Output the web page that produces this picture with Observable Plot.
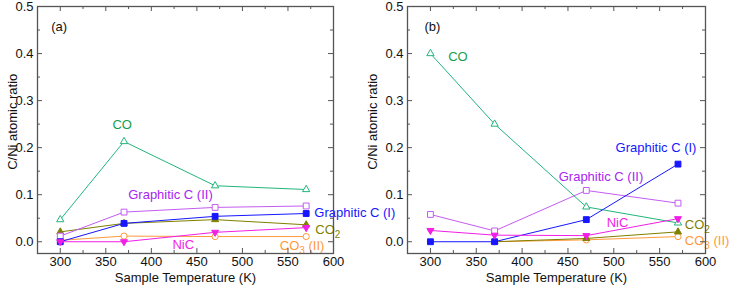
<!DOCTYPE html>
<html>
<head>
<meta charset="utf-8">
<script src="https://cdn.jsdelivr.net/npm/d3@7"></script>
<script src="https://cdn.jsdelivr.net/npm/@observablehq/plot@0.6"></script>
<style>
  html, body { margin: 0; padding: 0; background: #fff; }
  #chart { position: relative; width: 729px; height: 292px; }
  #chart svg { position: absolute; top: 0; }
</style>
</head>
<body>
<div id="chart"></div>
<script>
// Sample temperatures (K)
const temps = [300, 370, 470, 570];

// Panel (a): C/Ni atomic ratio per species
const coA   = [0.047, 0.213, 0.119, 0.111];
const gc2A  = [0.012, 0.063, 0.073, 0.076];
const gc1A  = [0.000, 0.039, 0.054, 0.060];
const co2A  = [0.021, 0.039, 0.047, 0.036];
const co3A  = [0.003, 0.012, 0.011, 0.011];
const nicA  = [0.000, 0.000, 0.020, 0.030];

// Panel (b)
const coB   = [0.400, 0.250, 0.074, 0.040];
const gc2B  = [0.058, 0.023, 0.109, 0.082];
const gc1B  = [0.000, 0.000, 0.047, 0.165];
const co2B  = [null, 0.000, 0.007, 0.021];
const co3B  = [null, 0.000, 0.004, 0.011];
const nicB  = [0.024, 0.014, 0.013, 0.049];

// Axis ticks
const xMajor = [300, 350, 400, 450, 500, 550, 600];
const xMinor = [325, 375, 425, 475, 525, 575];
const yMajor = [0, 0.1, 0.2, 0.3, 0.4, 0.5];
const yMinor = [0.05, 0.15, 0.25, 0.35, 0.45];

// Series styles (draw order: later on top)
const styles = {
  co3: {color: "#ff9a3c", text: "#ff9a3c", symbol: "circle",   open: true,  r: 3.1, rotate: 0},
  co2: {color: "#7f7f00", text: "#7f7f00", symbol: "triangle", open: false, r: 2.6, rotate: 0},
  gc2: {color: "#c45cf2", text: "#a726f0", symbol: "square",   open: true,  r: 3.3, rotate: 0},
  co:  {color: "#22b57c", text: "#16a04c", symbol: "triangle", open: true,  r: 2.7, rotate: 0},
  gc1: {color: "#1616ff", text: "#1616ff", symbol: "square",   open: false, r: 3.3, rotate: 0},
  nic: {color: "#f21ee6", text: "#f21ee6", symbol: "triangle", open: false, r: 2.6, rotate: 180}
};

// Series label placements (data units)
const labelsA = [
  {key: "co",  text: "CO",               x: 368, y: 0.249,  anchor: "middle"},
  {key: "gc2", text: "Graphitic C (II)", x: 421, y: 0.099,  anchor: "middle"},
  {key: "gc1", text: "Graphitic C (I)",  x: 579, y: 0.061,  anchor: "start"},
  {key: "co2", text: "CO2",              x: 580, y: 0.025,  anchor: "start"},
  {key: "nic", text: "NiC",              x: 435, y: -0.007, anchor: "middle"},
  {key: "co3", text: "CO3 (II)",         x: 541, y: -0.009, anchor: "start"}
];
const labelsB = [
  {key: "co",  text: "CO",               x: 330, y: 0.394,  anchor: "middle"},
  {key: "gc1", text: "Graphitic C (I)",  x: 546, y: 0.199,  anchor: "middle"},
  {key: "gc2", text: "Graphitic C (II)", x: 486, y: 0.137,  anchor: "middle"},
  {key: "nic", text: "NiC",              x: 504, y: 0.041,  anchor: "middle"},
  {key: "co2", text: "CO2",              x: 577.5, y: 0.036, anchor: "start"},
  {key: "co3", text: "CO3 (II)",         x: 577.5, y: 0.002, anchor: "start"}
];

const FONT = "'Liberation Sans', Arial, Helvetica, sans-serif";
const FRAME = "#555";

function rowsOf(values) {
  return temps.map((t, i) => ({t, v: values[i]})).filter(d => d.v != null);
}

function panel({series, labels, tag, tagPos, titleX, left, width, marginLeft, marginRight}) {
  const marginTop = 6, marginBottom = 39, height = 292;
  const pw = width - marginLeft - marginRight;
  const ph = height - marginTop - marginBottom;
  const marks = [];

  // lines and symbols
  for (const key of Object.keys(styles)) {
    const s = styles[key];
    const data = rowsOf(series[key]);
    marks.push(Plot.line(data, {x: "t", y: "v", stroke: s.color, strokeWidth: 1}));
    marks.push(Plot.dot(data, {
      x: "t", y: "v", symbol: s.symbol, r: s.r, rotate: s.rotate,
      stroke: s.color, strokeWidth: 1, fill: s.open ? "white" : s.color
    }));
  }

  // series labels
  for (const l of labels) {
    marks.push(Plot.text([l], {
      x: "x", y: "y", text: "text", textAnchor: l.anchor,
      fill: styles[l.key].text, fontSize: 13
    }));
  }

  // panel tag
  marks.push(Plot.text([tag], {x: () => tagPos[0], y: () => tagPos[1], text: d => d, textAnchor: "start", fontSize: 13, fill: "#111"}));

  // frame with inward ticks on all four sides
  marks.push(Plot.frame({stroke: FRAME, strokeWidth: 1.3}));
  const tk = {stroke: FRAME, strokeWidth: 1};
  marks.push(Plot.tickY(yMajor, {y: d => d, insetRight: pw - 5, ...tk}));
  marks.push(Plot.tickY(yMinor, {y: d => d, insetRight: pw - 3, ...tk}));
  marks.push(Plot.tickY(yMajor, {y: d => d, insetLeft: pw - 5, ...tk}));
  marks.push(Plot.tickY(yMinor, {y: d => d, insetLeft: pw - 3, ...tk}));
  marks.push(Plot.tickX(xMajor, {x: d => d, insetTop: ph - 5, ...tk}));
  marks.push(Plot.tickX(xMinor, {x: d => d, insetTop: ph - 3, ...tk}));
  marks.push(Plot.tickX(xMajor, {x: d => d, insetBottom: ph - 5, ...tk}));
  marks.push(Plot.tickX(xMinor, {x: d => d, insetBottom: ph - 3, ...tk}));

  // tick labels
  marks.push(Plot.axisX(xMajor, {tickSize: 0, tickPadding: 3, label: null, fontSize: 13, fill: "#111"}));
  marks.push(Plot.axisY(yMajor, {tickSize: 0, tickPadding: 4, label: null, fontSize: 13, fill: "#111", tickFormat: d3.format(".1f")}));

  // axis titles
  marks.push(Plot.text(["Sample Temperature (K)"], {frameAnchor: "bottom", lineAnchor: "middle", dy: 24, text: d => d, fontSize: 13, fill: "#111"}));
  marks.push(Plot.text(["C/Ni atomic ratio"], {x: () => titleX, y: () => 0.255, rotate: -90, lineAnchor: "middle", textAnchor: "middle", text: d => d, fontSize: 13, fill: "#111"}));

  const svg = Plot.plot({
    width, height, marginTop, marginBottom, marginLeft, marginRight,
    style: {fontFamily: FONT, background: "transparent", overflow: "visible"},
    x: {domain: [275, 600], axis: null},
    y: {domain: [-0.025, 0.5], axis: null},
    marks
  });

  // chemical subscripts (CO2, CO3)
  d3.select(svg).selectAll("text").each(function () {
    const m = /^CO(\d)(.*)$/.exec(this.textContent);
    if (!m || this.children.length) return;
    const sel = d3.select(this);
    sel.text(null);
    sel.append("tspan").text("CO");
    sel.append("tspan").attr("dy", 4).attr("font-size", 10).text(m[1]);
    if (m[2]) sel.append("tspan").attr("dy", -4).text(m[2]);
  });

  svg.style.left = left + "px";
  return svg;
}

const chart = document.getElementById("chart");

const svgB = panel({
  series: {co: coB, gc2: gc2B, gc1: gc1B, co2: co2B, co3: co3B, nic: nicB},
  labels: labelsB, tag: "(b)", tagPos: [293.5, 0.456], titleX: 237,
  left: 364, width: 365, marginLeft: 43, marginRight: 24
});
const svgA = panel({
  series: {co: coA, gc2: gc2A, gc1: gc1A, co2: co2A, co3: co3A, nic: nicA},
  labels: labelsA, tag: "(a)", tagPos: [290, 0.456], titleX: 248,
  left: 0, width: 364, marginLeft: 37, marginRight: 31
});
chart.appendChild(svgB);
chart.appendChild(svgA);
</script>
</body>
</html>
